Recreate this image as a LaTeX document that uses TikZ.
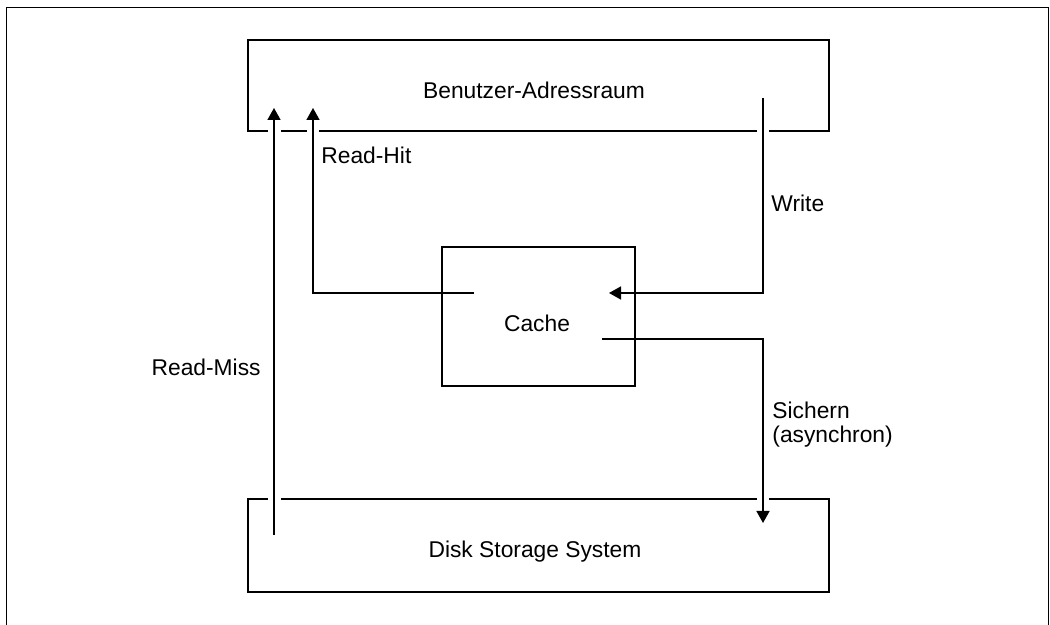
\documentclass[tikz,border=0pt]{standalone}
\usepackage{fontspec}
\setmainfont{Liberation Sans}
\usepackage{tikz}
\usetikzlibrary{arrows.meta, positioning}

\begin{document}
\begin{tikzpicture}[x=0.5pt, y=-0.5pt,
		font=\fontsize{11.4}{12}\selectfont,
		testo/.style={inner sep=0pt},
		linea/.style={line width=0.8pt},
		freccia/.style={linea, -{Triangle[length=6pt, width=6.5pt]}}]
			
			\useasboundingbox (0,0) rectangle (1050,625);
			
			% Cornice esterna
			\draw[line width=0.5pt] (6,625) -- (6,8) -- (1048,8) -- (1048,625);
			
			% Spazio utente
			\draw[linea] (268,131) -- (248,131) -- (248,40) -- (829,40) -- (829,131) -- (769,131);
			\draw[linea] (281,131) -- (307,131);
			\draw[linea] (319,131) -- (757,131);
			\node[testo] (utente) at (534,90) {Benutzer-Adressraum};
			
			% Cache
			\draw[linea] (442,247) rectangle (635,386);
			\node[testo] (cache) at (537,323) {Cache};
			
			% Disco
			\draw[linea] (268,499) -- (248,499) -- (248,592) -- (829,592) -- (829,499) -- (769,499);
			\draw[linea] (281,499) -- (757,499);
			\node[testo] (disco) at (535,552) {Disk Storage System};
			
			% Estremi delle frecce
			\coordinate (hit) at (474,293);
			\coordinate (hitsu) at (313,108);
			\coordinate (miss) at (274,535);
			\coordinate (misssu) at (274,108);
			\coordinate (scrivi) at (763,98);
			\coordinate (scrivifine) at (609,293);
			\coordinate (salva) at (602,339);
			\coordinate (salvafine) at (763,523);
			
			% Frecce
			\draw[freccia] (hit) -| (hitsu);
			\draw[freccia] (miss) -- (misssu);
			\draw[freccia] (scrivi) |- (scrivifine);
			\draw[freccia] (salva) -| (salvafine);
			
			% Etichette
			\node[testo, anchor=west] (lhit) at (321,155) {Read-Hit};
			\node[testo, anchor=east] (lmiss) at (261,367) {Read-Miss};
			\node[testo, anchor=west] (lscrivi) at (771,203) {Write};
			\node[testo, anchor=west, align=left] (lsalva) at (772,425) {Sichern\\(asynchron)};
			
		\end{tikzpicture}
\end{document}
